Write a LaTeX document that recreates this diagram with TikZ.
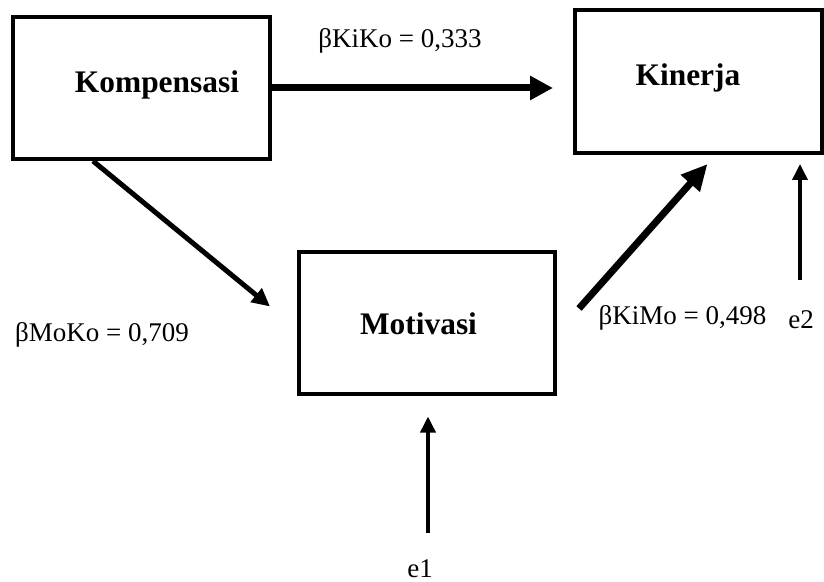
\documentclass[tikz,border=0pt]{standalone}
\usepackage{fontspec}
\setmainfont{Liberation Serif}
\usetikzlibrary{positioning}
\usetikzlibrary{arrows.meta}
\usetikzlibrary{calc}
\tikzset{%
	% Specifications for style of nodes:
	base/.style = {rectangle, draw=black, line width=2pt, inner sep=0pt},
	varBox/.style = {base, minimum width=128pt, minimum height=71pt},
	varName/.style = {inner sep=0pt,
		font=\fontsize{15.7pt}{18pt}\selectfont\bfseries},
	coef/.style = {inner sep=0pt, font=\fontsize{13.5pt}{16pt}\selectfont},
	% Specifications for style of arrows:
	pathArrow/.style = {line width=3.5pt, -{Triangle[length=11.5pt, width=11.5pt]}},
	errArrow/.style = {line width=1.8pt, -{Triangle[length=8pt, width=7.5pt]}},
}

\begin{document}
\begin{tikzpicture}[x=0.5pt, y=-0.5pt]
	\useasboundingbox (0,0) rectangle (824,582);
	
	\node (komp) [varBox, minimum width=128.5pt] at (141.5,88) {};
	\node (kin) [varBox, minimum width=123.5pt, minimum height=71.5pt] at (698.5,81.5) {};
	\node (mot) [varBox] at (427,323.5) {};
	\node (kompText) [varName] at ($(komp.center)+(15.5,-3)$) {Kompensasi};
	\node (kinText) [varName] at ($(kin.center)+(-10.5,-4)$) {Kinerja};
	\node (motText) [varName] at ($(mot.center)+(-8.5,0)$) {Motivasi};
	
	\node (kikoCoef) [coef] at (400,40.5) {βKiKo = 0,333};
	\node (mokoCoef) [coef] at (102,335) {βMoKo = 0,709};
	\node (kimoCoef) [coef] at (682.5,318) {βKiMo = 0,498};
	\node (e1) [coef] at (420,569) {e1};
	\node (e2) [coef] at (801,320) {e2};
	
	\draw [pathArrow] (komp.east) -- ($(kin.west |- komp.east)+(-20,0)$);
	\draw [pathArrow, line width=2.5pt, -{Triangle[length=9pt, width=8.5pt]}]
		($(komp.south west)+(82,0)$) -- ($(mot.west)+(-27,-17)$);
	\draw [pathArrow, -{Triangle[length=13pt, width=12pt]}]
		($(mot.east)+(22,-15)$) -- ($(kin.south)+(9,9)$);
	
	\coordinate (e1tail) at (428,533);
	\coordinate (e2tail) at (800,280);
	\draw [errArrow] (e1tail) -- ($(e1tail |- mot.south)+(0,20)$);
	\draw [errArrow] (e2tail) -- ($(e2tail |- kin.south)+(0,9)$);
\end{tikzpicture}
\end{document}
